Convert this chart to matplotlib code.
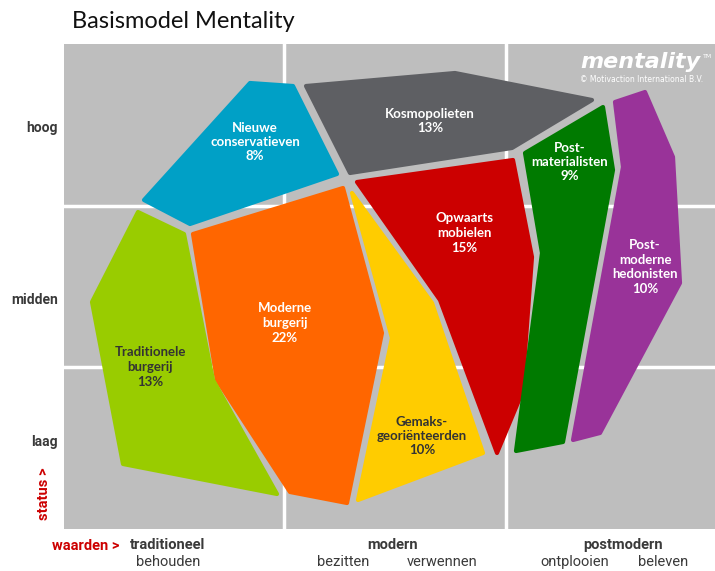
import matplotlib.pyplot as plt
from matplotlib.patches import Polygon, Rectangle

# segmenten: naam, aandeel, kleur, tekstkleur
segmenten = ["Nieuwe\nconservatieven", "Kosmopolieten", "Opwaarts\nmobielen",
             "Post-\nmaterialisten", "Post-\nmoderne\nhedonisten", "Moderne\nburgerij",
             "Traditionele\nburgerij", "Gemaks-\ngeoriënteerden"]
aandeel = [8, 13, 15, 9, 10, 22, 13, 10]
kleuren = ["#00A0C6", "#5E5F63", "#CC0000", "#007A00", "#993399", "#FF6600",
           "#99CC00", "#FFCC00"]
tekstkleur = ["white"] * 6 + ["#333333", "#333333"]
label_pos = [(255, 142), (430, 121), (464, 233), (570, 162), (645, 267),
             (285, 323), (150, 367), (422, 436)]

# vormen in beeldpunten (x, y), y loopt naar beneden
vormen = [
    [(250, 83), (293, 86), (337, 174), (190, 224), (144, 200)],
    [(306, 86), (455, 73), (592, 100), (512, 148), (350, 173)],
    [(357, 182), (513, 160), (532, 257), (522, 393), (497, 453), (440, 300)],
    [(525, 153), (603, 107), (613, 170), (563, 442), (516, 451), (542, 253)],
    [(615, 102), (645, 92), (673, 157), (680, 283), (600, 433), (573, 440), (623, 167)],
    [(193, 234), (343, 188), (382, 333), (347, 503), (290, 492), (217, 380)],
    [(138, 212), (184, 234), (213, 380), (277, 494), (123, 464), (92, 302)],
    [(352, 193), (432, 303), (483, 453), (358, 500), (392, 338)],
]

# assen
status_labels = ["hoog", "midden", "laag"]
status_y = [128, 300, 442]
waarden_labels = ["traditioneel", "modern", "postmodern"]
waarden_x = [168, 393, 623]
sub_labels = ["behouden", "bezitten", "verwennen", "ontplooien", "beleven"]
sub_x = [168, 343, 442, 575, 663]

grid_x = [284, 506]
grid_y = [206, 367]

fig = plt.figure(figsize=(7.15, 5.71), dpi=100)
ax = fig.add_axes([0, 0, 1, 1])
ax.set_xlim(0, 715)
ax.set_ylim(571, 0)
ax.axis('off')

grijs = "#BEBEBE"
ax.add_patch(Rectangle((64, 44), 651, 485, facecolor=grijs, edgecolor='none',
                       zorder=0))
for gx in grid_x:
    ax.plot([gx, gx], [44, 529], color='white', lw=2.5, zorder=1)
for gy in grid_y:
    ax.plot([64, 715], [gy, gy], color='white', lw=2.5, zorder=1)

for pts, c in zip(vormen, kleuren):
    ax.add_patch(Polygon(pts, closed=True, facecolor=c, edgecolor=c,
                         lw=3, joinstyle='round', zorder=2))

font = ['Lato', 'DejaVu Sans']
for naam, p, (x, y), tc in zip(segmenten, aandeel, label_pos, tekstkleur):
    ax.text(x, y, naam + "\n" + str(p) + "%", ha='center', va='center',
            color=tc, fontsize=9.5, fontweight='bold', family=font,
            linespacing=1.25, zorder=3)

# titel
ax.text(72, 22, "Basismodel Mentality", fontsize=17, family=font,
        va='center', ha='left', color='#111111')

# logo
ax.text(700, 62, "mentality", fontsize=16, fontweight='heavy', style='italic',
        color='white', ha='right', va='center', family=['DejaVu Sans'], zorder=3)
ax.text(703, 56, "TM", fontsize=4.5, color='white', ha='left', va='center',
        zorder=3)
ax.text(703, 79, "© Motivaction International B.V.", fontsize=5.5,
        color='white', ha='right', va='center', zorder=3)

# as-teksten in een smallere letter
smal = ['Roboto', 'DejaVu Sans']
donker = "#3A3A3A"
for lab, y in zip(status_labels, status_y):
    ax.text(58, y, lab, ha='right', va='center', fontsize=10,
            fontweight='bold', color=donker, family=smal)
ax.text(44, 494, "status >", rotation=90, ha='center', va='center',
        fontsize=10.5, fontweight='bold', color='#CC0000', family=smal)

ax.text(120, 546, "waarden >", ha='right', va='center', fontsize=10.5,
        fontweight='bold', color='#CC0000', family=smal)
for lab, x in zip(waarden_labels, waarden_x):
    ax.text(x, 545, lab, ha='center', va='center', fontsize=10.5,
            fontweight='bold', color=donker, family=smal)
for lab, x in zip(sub_labels, sub_x):
    ax.text(x, 562, lab, ha='center', va='center', fontsize=10.5,
            color=donker, family=smal)

fig.savefig("out.png", dpi=100)
